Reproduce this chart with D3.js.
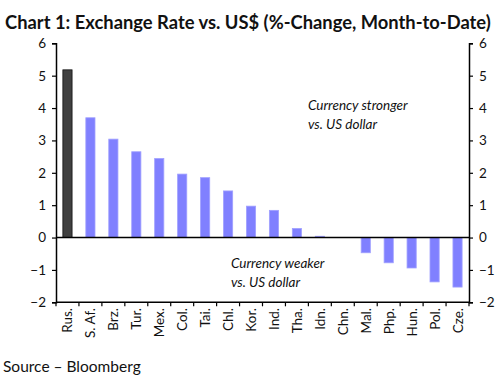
<!DOCTYPE html>
<html><head><meta charset="utf-8">
<script src="https://cdn.jsdelivr.net/npm/d3@7"></script>
<style>body{margin:0;background:#fff}svg{display:block}text{font-family:Lato,"Open Sans",sans-serif}</style>
</head><body><svg id="c" width="504" height="378"></svg>
<script>
const categories = ["Rus.","S. Af.","Brz.","Tur.","Mex.","Col.","Tai.","Chl.","Kor.","Ind.","Tha.","Idn.","Chn.","Mal.","Php.","Hun.","Pol.","Cze."];
const values = [5.18,3.70,3.04,2.65,2.44,1.96,1.85,1.44,0.97,0.84,0.28,0.04,0.0,-0.47,-0.78,-0.94,-1.37,-1.53];
const yTicks = [-2,-1,0,1,2,3,4,5,6];
const title = "Chart 1: Exchange Rate vs. US$ (%-Change, Month-to-Date)";
const source = "Source \u2013 Bloomberg";
const noteUp = ["Currency stronger","vs. US dollar"];
const noteDown = ["Currency weaker","vs. US dollar"];

const svg = d3.select("#c");
const L = 56, R = 469, T = 43.3, B = 302.3;
const x = d3.scaleBand().domain(categories).range([L,R]).paddingInner(0.6).paddingOuter(0.3);
const y = d3.scaleLinear().domain([-2,6]).range([B,T]);

// title (fit to width by horizontal scaling)
const tt = svg.append("text").attr("x",0).attr("y",0).attr("font-weight","bold").attr("font-size",19)
  .attr("fill","#111").text(title);
const tw = tt.node().getComputedTextLength();
const sx = Math.min(1, 486/tw);
tt.attr("transform",`translate(5,29) scale(${sx},1)`);

// bars
svg.append("g").selectAll("rect").data(values).join("rect")
  .attr("x",(d,i)=>x(categories[i]))
  .attr("width",x.bandwidth())
  .attr("y",d=>y(Math.max(0,d)))
  .attr("height",d=>Math.abs(y(d)-y(0)))
  .attr("fill",(d,i)=>i===0?"#404040":"#8080ff")
  .attr("stroke",(d,i)=>i===0?"#111":"#a0a0ff").attr("stroke-width",0.8);

// left axis
const la = svg.append("g").attr("transform",`translate(${L},0)`)
  .call(d3.axisLeft(y).tickValues(yTicks).tickSize(4).tickPadding(6).tickFormat(d3.format("d")));
// right axis
const ra = svg.append("g").attr("transform",`translate(${R},0)`)
  .call(d3.axisRight(y).tickValues(yTicks).tickSize(4).tickPadding(6).tickFormat(d3.format("d")));
[la,ra].forEach(a=>{
  a.select(".domain").attr("stroke","#000").attr("stroke-width",1.5);
  a.selectAll(".tick line").attr("stroke","#000").attr("stroke-width",1.2);
  a.selectAll(".tick text").attr("font-size",13.5).attr("fill","#111").attr("font-family","Lato,sans-serif");
});

// zero line
svg.append("line").attr("x1",L).attr("x2",R).attr("y1",y(0)).attr("y2",y(0))
  .attr("stroke","#000").attr("stroke-width",1.5);

// bottom axis line with ticks at band boundaries
svg.append("line").attr("x1",L).attr("x2",R).attr("y1",B).attr("y2",B).attr("stroke","#000").attr("stroke-width",1.5);
const half = (x.step()-x.bandwidth())/2;
const bounds = categories.map(c=>x(c)-half).concat([x(categories[categories.length-1])+x.bandwidth()+half]);
svg.append("g").selectAll("line").data(bounds).join("line")
  .attr("x1",d=>d).attr("x2",d=>d).attr("y1",B).attr("y2",B+4).attr("stroke","#000").attr("stroke-width",1.2);

// category labels
svg.append("g").selectAll("text").data(categories).join("text")
  .attr("transform",c=>`translate(${x(c)+x.bandwidth()/2+5},308) rotate(-90)`)
  .attr("text-anchor","end").attr("font-size",13.5).attr("fill","#111").text(c=>c);

// notes
const nu = svg.append("text").attr("font-style","italic").attr("font-size",13.5).attr("fill","#111");
noteUp.forEach((t,i)=>nu.append("tspan").attr("x",308).attr("y",110+i*18.5).text(t));
const nd = svg.append("text").attr("font-style","italic").attr("font-size",13.5).attr("fill","#111");
noteDown.forEach((t,i)=>nd.append("tspan").attr("x",231).attr("y",268+i*19).text(t));

// source
svg.append("text").attr("x",3).attr("y",372).attr("font-size",15.5).attr("fill","#111").text(source);
</script></body></html>
